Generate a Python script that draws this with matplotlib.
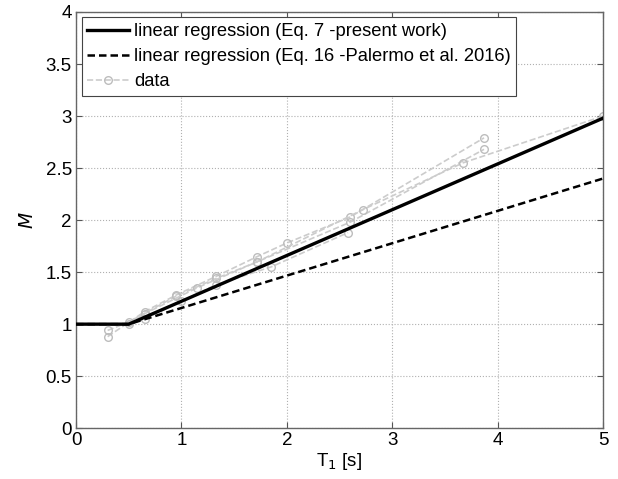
import matplotlib
matplotlib.use("Agg")
import matplotlib.pyplot as plt
import numpy as np

plt.rcParams['font.family'] = ['Liberation Sans', 'DejaVu Sans']

# Regression models: M = 1 for T1 <= 0.5 s, linear above
t_model = [0.0, 0.5, 5.0]
m_present = [1.0, 1.0, 2.98]
m_palermo = [1.0, 1.0, 2.40]

# Measured data series (T1 [s], M)
data_t = [
    [0.30, 0.65, 0.95, 1.33, 1.72, 2.00, 2.60, 3.87],
    [0.30, 0.50, 0.95, 1.33, 1.72, 2.60, 3.87],
    [0.50, 0.65, 1.15, 1.72, 2.72, 3.67, 5.00],
    [0.65, 1.00, 1.33, 1.85, 2.58],
]
data_m = [
    [0.88, 1.12, 1.28, 1.46, 1.65, 1.78, 2.03, 2.79],
    [0.94, 1.02, 1.27, 1.44, 1.60, 1.98, 2.68],
    [1.00, 1.10, 1.35, 1.60, 2.10, 2.55, 3.00],
    [1.05, 1.22, 1.38, 1.55, 1.88],
]

fig = plt.figure(figsize=(6.18, 4.79), dpi=100)
ax = fig.add_axes([0.123, 0.106, 0.853, 0.869])

for i, (t, m) in enumerate(zip(data_t, data_m)):
    ax.plot(t, m, ls='--', color='#cccccc', lw=1.2, marker='o', ms=5.5,
            mfc='none', mec='#bdbdbd', mew=1.0,
            label='data' if i == 0 else None, zorder=2)

ax.plot(t_model, m_present, color='black', lw=2.4,
        label='linear regression (Eq. 7 -present work)', zorder=3)
ax.plot(t_model, m_palermo, color='black', lw=1.8, ls=(0, (3, 1.6)),
        label='linear regression (Eq. 16 -Palermo et al. 2016)', zorder=3)

ax.set_xlim(0, 5)
ax.set_ylim(0, 4)
ax.set_xticks(np.arange(0, 6, 1))
ax.set_yticks(np.arange(0, 4.01, 0.5))
ax.set_yticklabels(['0', '0.5', '1', '1.5', '2', '2.5', '3', '3.5', '4'])
ax.grid(True, ls=':', color='#b0b0b0', lw=0.8)
ax.tick_params(direction='in', length=4, labelsize=13.5, color='#555555',
               top=True, right=True, pad=3)
for s in ax.spines.values():
    s.set_color('#666666')
    s.set_linewidth(1.0)

ax.set_xlabel('T$_1$ [s]', fontsize=13.5, labelpad=1)
ax.set_ylabel('$M$', fontsize=13.5, labelpad=6)

handles, labels = ax.get_legend_handles_labels()
order = [labels.index('linear regression (Eq. 7 -present work)'),
         labels.index('linear regression (Eq. 16 -Palermo et al. 2016)'),
         labels.index('data')]
leg = ax.legend([handles[k] for k in order], [labels[k] for k in order],
                loc='upper left', fontsize=13.2, frameon=True, fancybox=False,
                edgecolor='#444444', framealpha=1, handlelength=2.3,
                handletextpad=0.25, borderpad=0.3, labelspacing=0.45,
                borderaxespad=0.3)
leg.get_frame().set_linewidth(0.8)

fig.savefig('out.png', dpi=100)
